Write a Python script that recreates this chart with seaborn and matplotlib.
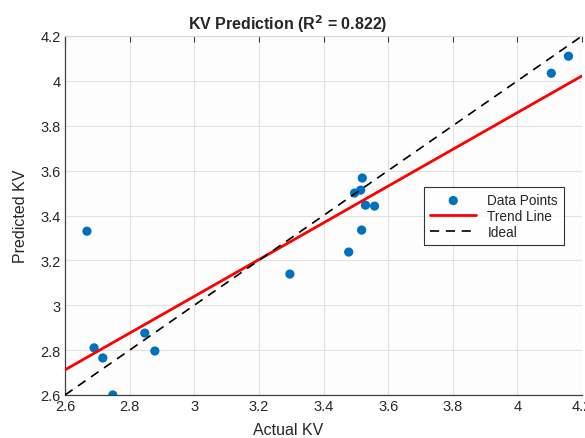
import numpy as np
import pandas as pd
import matplotlib
matplotlib.use("Agg")
import matplotlib.pyplot as plt
import seaborn as sns

actual_kv = [2.668, 2.690, 2.717, 2.748, 2.847, 2.878, 3.296, 3.478,
             3.496, 3.515, 3.520, 3.518, 3.530, 3.558, 4.105, 4.158]
predicted_kv = [3.330, 2.810, 2.765, 2.600, 2.876, 2.796, 3.139, 3.237,
                3.500, 3.513, 3.567, 3.335, 3.446, 3.442, 4.034, 4.110]
x_ticks = [2.6, 2.8, 3.0, 3.2, 3.4, 3.6, 3.8, 4.0, 4.2]
x_tick_labels = ["2.6", "2.8", "3", "3.2", "3.4", "3.6", "3.8", "4", "4.2"]
y_ticks = [2.6, 2.8, 3.0, 3.2, 3.4, 3.6, 3.8, 4.0, 4.2]
y_tick_labels = ["2.6", "2.8", "3", "3.2", "3.4", "3.6", "3.8", "4", "4.2"]
axis_range = [2.6, 4.2]

sns.set_style("white")
plt.rcParams['font.family'] = ['Liberation Sans', 'DejaVu Sans']

df = pd.DataFrame({"Actual": actual_kv, "Predicted": predicted_kv})
slope, intercept = np.polyfit(df["Actual"], df["Predicted"], 1)
line_x = np.array(axis_range)
trend_df = pd.DataFrame({"x": line_x, "y": slope * line_x + intercept})
ideal_df = pd.DataFrame({"x": line_x, "y": line_x})

fig = plt.figure(figsize=(5.85, 4.39), dpi=100)
ax = fig.add_axes([65/585, 1-396/439, (582-65)/585, (396-37)/439])
ax.set_facecolor("#fdfdfd")

sns.scatterplot(data=df, x="Actual", y="Predicted", ax=ax, color="#0072BD",
                s=44, edgecolor="none", label="Data Points", zorder=3)
sns.lineplot(data=trend_df, x="x", y="y", ax=ax, color="#ff0000", lw=2.0,
             label="Trend Line", zorder=4)
sns.lineplot(data=ideal_df, x="x", y="y", ax=ax, color="black", lw=1.2,
             label="Ideal", zorder=4)
ax.lines[-1].set_dashes([5.5, 4])

ax.set_xlim(axis_range)
ax.set_ylim(axis_range)
ax.set_xticks(x_ticks)
ax.set_xticklabels(x_tick_labels)
ax.set_yticks(y_ticks)
ax.set_yticklabels(y_tick_labels)
ax.grid(True, color="#e2e2e2", lw=0.8)
ax.set_axisbelow(True)
ax.tick_params(axis="both", direction="in", length=4, width=0.8,
               color="#404040", labelsize=10.5, labelcolor="#262626", pad=3)
ax.tick_params(axis="x", top=True)
for side in ["left", "bottom"]:
    ax.spines[side].set_color("#404040")
    ax.spines[side].set_linewidth(0.9)
ax.spines["top"].set_color("#d8d8d8")
ax.spines["top"].set_linewidth(0.8)
ax.spines["right"].set_visible(False)

ax.set_xlabel("Actual KV", fontsize=11.5, color="#262626")
ax.set_ylabel("Predicted KV", fontsize=11.5, color="#262626")
ax.xaxis.set_label_coords((288-65)/(582-65), -0.075)
ax.yaxis.set_label_coords(-(65-28)/(582-65), 0.5)

fig.text(288/585, 1-24/439, r"KV Prediction (R$^\mathbf{2}$ = 0.822)",
         ha="center", va="center", fontsize=11.5, fontweight="bold")

leg = ax.legend(loc="upper left", bbox_to_anchor=((424-65)/(582-65), 1-(188-37)/(396-37)),
                frameon=True, fancybox=False, fontsize=9.8, borderpad=0.45,
                handlelength=3.4, labelspacing=0.15, borderaxespad=0,
                edgecolor="black")
leg.get_frame().set_linewidth(0.8)

fig.savefig("out.png", dpi=100)
